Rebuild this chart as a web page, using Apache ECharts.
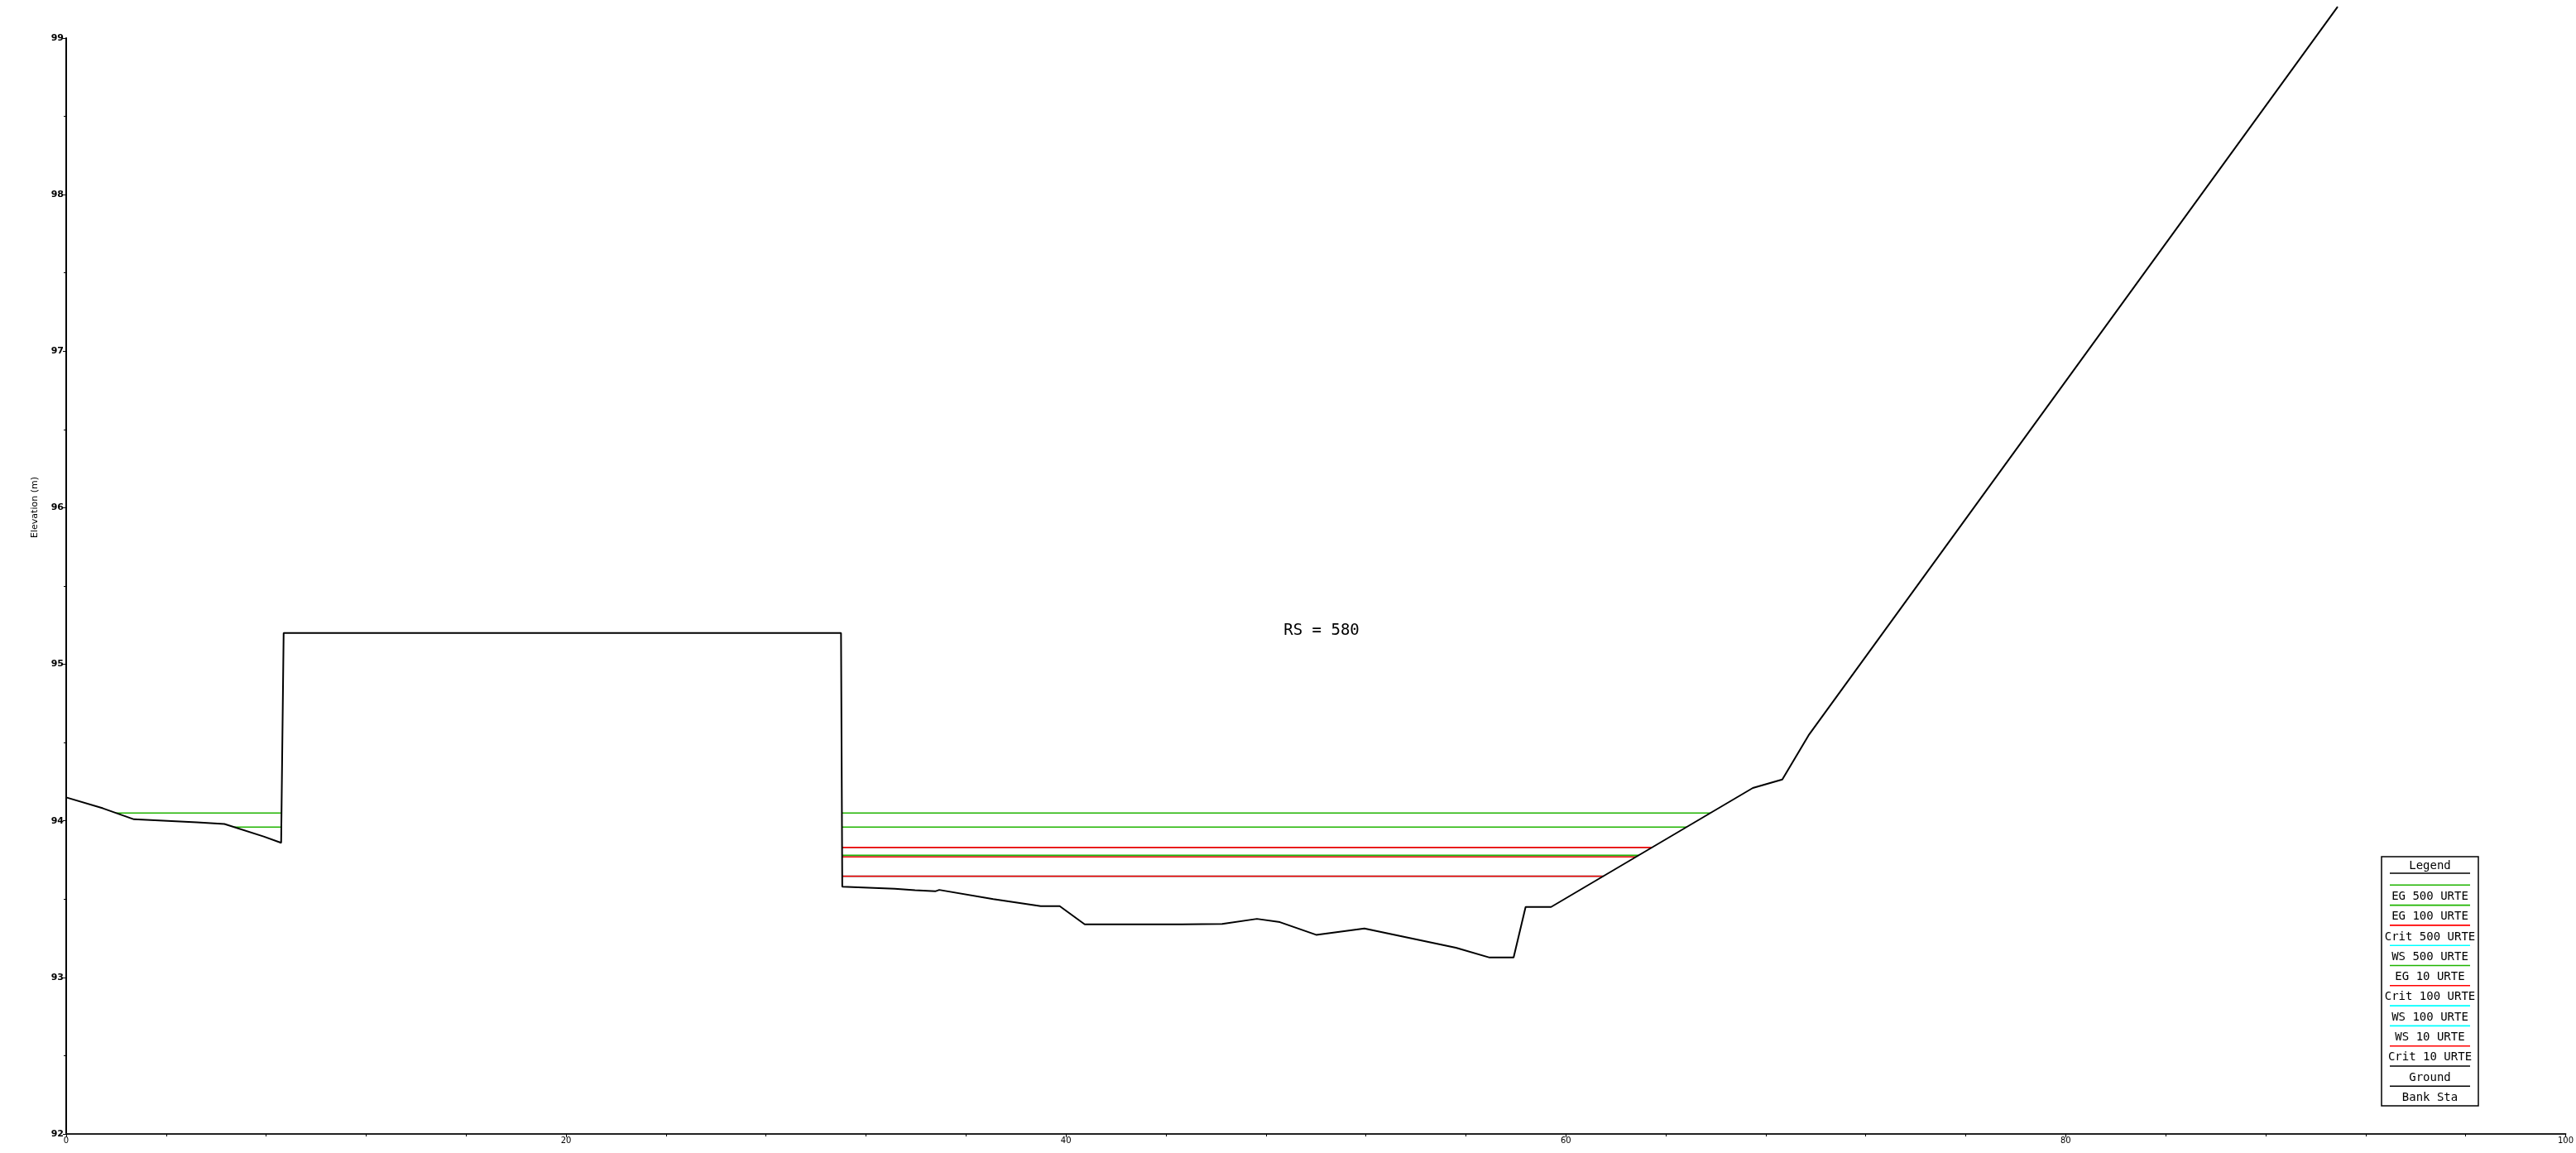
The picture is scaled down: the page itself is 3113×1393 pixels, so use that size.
<!DOCTYPE html>
<html><head><meta charset="utf-8">
<script src="https://cdn.jsdelivr.net/npm/echarts@6/dist/echarts.min.js"></script>
<style>html,body{margin:0;padding:0;background:#fff}#c{width:3113px;height:1393px}</style>
</head><body><div id="c"></div>
<script>
// ---- data ----
const groundX = [0, 1.47, 2.71, 5.23, 6.33, 7.9, 8.6, 8.7, 31.0, 31.05, 33.15, 33.96, 34.77, 34.93, 37.09, 38.99, 39.75, 40.75, 44.63, 46.25, 47.64, 48.56, 50.01, 51.94, 55.6, 56.95, 57.91, 58.39, 59.41, 67.48, 68.66, 69.71, 90.88];
const groundY = [94.15, 94.08, 94.01, 93.99, 93.98, 93.90, 93.86, 95.2, 95.2, 93.58, 93.566, 93.557, 93.55, 93.559, 93.50, 93.455, 93.455, 93.339, 93.339, 93.342, 93.374, 93.353, 93.272, 93.312, 93.19, 93.127, 93.127, 93.45, 93.45, 94.21, 94.264, 94.546, 99.2];
const profileNames = ['EG 500 URTE','EG 100 URTE','Crit 500 URTE','WS 500 URTE','EG 10 URTE','Crit 100 URTE','WS 100 URTE','WS 10 URTE','Crit 10 URTE'];
const profileElev = [94.05, 93.96, 93.83, 93.83, 93.78, 93.77, 93.77, 93.646, 93.646];
const profileColors = ['#1fb400','#1fb400','#ff0000','#00ffff','#1fb400','#ff0000','#00ffff','#00ffff','#ff0000'];
const legendNames = profileNames.concat(['Ground','Bank Sta']);
const legendColors = profileColors.concat(['#000000','#000000']);
const xRange = [0, 100, 20];
const yRange = [92, 99, 1];
const sectionLabel = 'RS = 580';
const yTitle = 'Elevation (m)';

// ---- helpers ----
function wetIntervals(w) {
  const out = []; let cur = null;
  for (let i = 0; i < groundX.length - 1; i++) {
    const x1 = groundX[i], y1 = groundY[i], x2 = groundX[i+1], y2 = groundY[i+1];
    let a = null, b = null;
    if (y1 < w && y2 < w) { a = x1; b = x2; }
    else if (y1 < w && y2 >= w) { a = x1; b = x1 + (w - y1) / (y2 - y1) * (x2 - x1); }
    else if (y1 >= w && y2 < w) { a = x1 + (w - y1) / (y2 - y1) * (x2 - x1); b = x2; }
    if (a !== null) {
      if (cur && Math.abs(cur[1] - a) < 1e-9) cur[1] = b;
      else { cur = [a, b]; out.push(cur); }
    }
  }
  return out;
}

const series = [];
profileNames.forEach((n, i) => {
  const w = profileElev[i];
  const z = n.startsWith('WS') ? 2 : (n.startsWith('EG') ? 3 : 4);
  wetIntervals(w).forEach(iv => {
    series.push({
      name: n, type: 'line', symbol: 'none', z: z, silent: true,
      lineStyle: { color: profileColors[i], width: 1.6 },
      data: [[iv[0], w], [iv[1], w]]
    });
  });
});
series.push({
  name: 'Ground', type: 'line', symbol: 'none', clip: false, z: 6, silent: true,
  lineStyle: { color: '#000', width: 2 },
  data: groundX.map((x, i) => [x, groundY[i]])
});

// legend graphic (built from names/colors)
const LB = { left: 2878, top: 1035, w: 117, h: 301, pitch: 24.3 };
const cx = LB.left + LB.w / 2;
const legendEls = [
  { type: 'rect', shape: { x: LB.left, y: LB.top, width: LB.w, height: LB.h }, style: { fill: '#fff', stroke: '#000', lineWidth: 1.5 } },
  { type: 'text', x: cx, y: LB.top + 11, style: { text: 'Legend', font: '14px "DejaVu Sans Mono"', fill: '#000', align: 'center', verticalAlign: 'middle' } },
  { type: 'line', shape: { x1: LB.left + 10, y1: LB.top + 20, x2: LB.left + 107, y2: LB.top + 20 }, style: { stroke: '#000', lineWidth: 1.5 } }
];
legendNames.forEach((n, i) => {
  const ly = LB.top + 34.3 + i * LB.pitch;
  legendEls.push({ type: 'line', shape: { x1: LB.left + 10, y1: ly, x2: LB.left + 107, y2: ly }, style: { stroke: legendColors[i], lineWidth: 1.6 } });
  legendEls.push({ type: 'text', x: cx, y: ly + 14, style: { text: n, font: '14px "DejaVu Sans Mono"', fill: '#000', align: 'center', verticalAlign: 'middle' } });
});

const chart = echarts.init(document.getElementById('c'), null, { renderer: 'canvas' });
chart.setOption({
  animation: false,
  backgroundColor: '#fff',
  grid: { left: 80, right: 10, top: 46, bottom: 23, containLabel: false },
  xAxis: {
    type: 'value', min: xRange[0], max: xRange[1], interval: xRange[2],
    axisLine: { onZero: false, lineStyle: { color: '#222', width: 2 } },
    axisTick: { show: true, length: 4, lineStyle: { color: '#000' } },
    minorTick: { show: true, splitNumber: 5, length: 3, lineStyle: { color: '#000' } },
    splitLine: { show: false },
    axisLabel: { color: '#000', fontSize: 10, margin: 3, fontFamily: 'DejaVu Sans' }
  },
  yAxis: {
    type: 'value', min: yRange[0], max: yRange[1], interval: yRange[2],
    axisLine: { show: true, onZero: false, lineStyle: { color: '#000', width: 2 } },
    axisTick: { show: true, length: 4, lineStyle: { color: '#000' } },
    minorTick: { show: true, splitNumber: 2, length: 3, lineStyle: { color: '#000' } },
    splitLine: { show: false },
    axisLabel: { color: '#000', fontSize: 11, fontWeight: 'bold', margin: 3, fontFamily: 'DejaVu Sans' }
  },
  graphic: [
    { type: 'text', x: 42, y: 613, rotation: Math.PI / 2, style: { text: yTitle, font: '11px "DejaVu Sans"', fill: '#000', align: 'center', verticalAlign: 'middle' } },
    { type: 'text', x: 1597, y: 762, style: { text: sectionLabel, font: '19px "DejaVu Sans Mono"', fill: '#000', align: 'center', verticalAlign: 'middle' } },
    { type: 'group', children: legendEls }
  ],
  series: series
});
</script>
</body></html>
